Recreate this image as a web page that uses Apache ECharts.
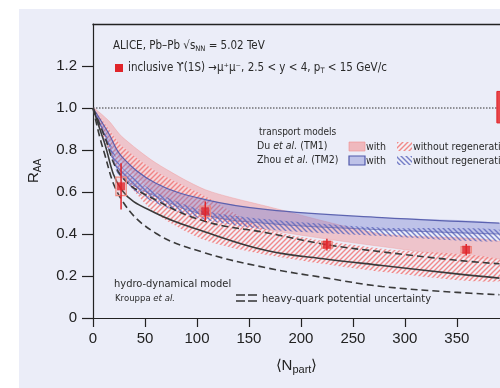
<!DOCTYPE html>
<html><head><meta charset="utf-8">
<script src="https://cdn.jsdelivr.net/npm/echarts@6/dist/echarts.min.js"></script>
<style>html,body{margin:0;padding:0;background:#fff}#c{width:500px;height:388px}</style>
</head><body><div id="c"></div>
<script>
// ---- data ----
const bandX      = [0, 15, 27.5, 60, 108, 168, 278, 391];
const tm1WithUp  = [1.0, 0.94, 0.865, 0.74, 0.611, 0.531, 0.40, 0.365];
const tm1WithLo  = [1.0, 0.86, 0.75, 0.60, 0.49, 0.42, 0.34, 0.28];
const tm1NoUp    = [1.0, 0.90, 0.82, 0.70, 0.58, 0.42, 0.33, 0.28];
const tm1NoLo    = [1.0, 0.80, 0.68, 0.50, 0.37, 0.30, 0.22, 0.175];
const tm2WithUp  = [1.0, 0.88, 0.77, 0.643, 0.564, 0.516, 0.478, 0.452];
const tm2WithLo  = [1.0, 0.83, 0.68, 0.58, 0.49, 0.45, 0.42, 0.40];
const tm2NoUp    = [1.0, 0.85, 0.72, 0.60, 0.51, 0.47, 0.43, 0.42];
const tm2NoLo    = [1.0, 0.80, 0.655, 0.548, 0.468, 0.421, 0.39, 0.365];

const hydroX     = [0, 10, 27.5, 60, 108, 168, 225, 278, 350, 391];
const hydroUp    = [1.0, 0.88, 0.674, 0.563, 0.46, 0.405, 0.349, 0.315, 0.275, 0.258];
const hydroMid   = [1.0, 0.85, 0.611, 0.50, 0.41, 0.32, 0.28, 0.25, 0.21, 0.19];
const hydroLo    = [1.0, 0.80, 0.563, 0.405, 0.31, 0.238, 0.19, 0.15, 0.122, 0.111];

const dataNpart  = [27, 108, 225, 359];
const dataRaa    = [0.627, 0.508, 0.349, 0.325];
const statErr    = [0.11, 0.047, 0.028, 0.027];
const systErr    = [0.044, 0.025, 0.016, 0.015];
const systHalfW  = 5;
const globalUnc  = [388.5, 396, 0.929, 1.079]; // x0, x1, y0, y1

const xTicks = [0, 50, 100, 150, 200, 250, 300, 350];
const yTicks = [0, 0.2, 0.4, 0.6, 0.8, 1.0, 1.2];

// ---- helpers ----
function hatch(color, bg, dir) {
  const c = document.createElement('canvas');
  c.width = 5; c.height = 5;
  const g = c.getContext('2d');
  if (bg) { g.fillStyle = bg; g.fillRect(0, 0, 5, 5); }
  g.strokeStyle = color; g.lineWidth = 1.4;
  g.beginPath();
  if (dir > 0) {
    g.moveTo(-1, 6); g.lineTo(6, -1);
    g.moveTo(-1, 1); g.lineTo(1, -1);
    g.moveTo(4, 6); g.lineTo(6, 4);
  } else {
    g.moveTo(-1, -1); g.lineTo(6, 6);
    g.moveTo(4, -1); g.lineTo(6, 1);
    g.moveTo(-1, 4); g.lineTo(1, 6);
  }
  g.stroke();
  return { image: c, repeat: 'repeat' };
}
const pinkHatch = hatch('rgba(240,118,118,0.85)', 'rgba(255,246,246,0.35)', 1);
const blueHatch = hatch('rgba(96,106,190,0.85)', null, -1);

function band(name, up, lo, style, z) {
  return {
    type: 'custom', name, z, silent: true, clip: true,
    data: [[0, 0]],
    renderItem(params, api) {
      const pts = [];
      for (let i = 0; i < bandX.length; i++) pts.push(api.coord([bandX[i], up[i]]));
      for (let i = bandX.length - 1; i >= 1; i--) pts.push(api.coord([bandX[i], lo[i]]));
      return { type: 'polygon', shape: { points: pts, smooth: 0.25 }, style };
    }
  };
}
function edge(ys, color, width, z) {
  return {
    type: 'line', data: bandX.map((x, i) => [x, ys[i]]), smooth: 0.4, symbol: 'none',
    lineStyle: { color, width }, z, silent: true
  };
}
function hydro(ys, type) {
  return {
    type: 'line', data: hydroX.map((x, i) => [x, ys[i]]), smooth: 0.4, symbol: 'none',
    lineStyle: { color: '#3a3a3a', width: 1.6, type }, z: 6, silent: true
  };
}

const NARROW = "'DejaVu Sans Condensed', 'Liberation Sans Narrow', 'Liberation Sans', sans-serif";
const SANS = "'Liberation Sans', Arial, sans-serif";
const TXT = '#2a2a2a';

const chart = echarts.init(document.getElementById('c'), null, { renderer: 'canvas' });
chart.setOption({
  backgroundColor: '#ffffff',
  animation: false,
  grid: { left: 93, top: 24, width: 407, height: 294, show: false },
  xAxis: {
    type: 'value', min: 0, max: 391.5, interval: 50,
    axisLine: { show: true, lineStyle: { color: '#222', width: 1.2 } },
    axisTick: { show: true, inside: false, length: 9, lineStyle: { color: '#222', width: 1.2 }, customValues: xTicks },
    axisLabel: { color: '#222', fontSize: 15, fontFamily: SANS, margin: 13, customValues: xTicks },
    splitLine: { show: false },
    name: '{a|⟨N}{b|part}{a|⟩}', nameLocation: 'middle', nameGap: 38,
    nameTextStyle: { rich: { a: { fontSize: 15, fontFamily: SANS, color: '#222' }, b: { fontSize: 11, fontFamily: SANS, color: '#222', verticalAlign: 'bottom', padding: [8, 0, 0, 0] } } }
  },
  yAxis: {
    type: 'value', min: 0, max: 1.4, interval: 0.2,
    axisLine: { show: true, lineStyle: { color: '#222', width: 1.2 } },
    axisTick: { show: true, inside: false, length: 11, lineStyle: { color: '#222', width: 1.2 }, customValues: yTicks },
    axisLabel: { color: '#222', fontSize: 15, fontFamily: SANS, margin: 16, customValues: yTicks,
      formatter: v => (v === 0 ? '0' : v.toFixed(1)) },
    splitLine: { show: false },
    name: '{a|R}{b|AA}', nameLocation: 'middle', nameGap: 50, nameRotate: 90,
    nameTextStyle: { rich: { a: { fontSize: 15, fontFamily: SANS, color: '#222' }, b: { fontSize: 10, fontFamily: SANS, color: '#222', padding: [8, 0, 0, 0] } } }
  },
  series: [
    { type: 'line', data: [[0, 1], [391.5, 1]], symbol: 'none', silent: true, z: 3,
      lineStyle: { color: '#333', width: 1, type: [1.5, 1.5] } },
    band('tm1With', tm1WithUp, tm1WithLo, { fill: 'rgba(242,140,140,0.42)', stroke: 'rgba(240,140,140,0.45)', lineWidth: 0.8 }, 2),
    band('tm1No', tm1NoUp, tm1NoLo, { fill: pinkHatch, stroke: null }, 3),
    band('tm2With', tm2WithUp, tm2WithLo, { fill: 'rgba(110,118,205,0.36)', stroke: null }, 4),
    band('tm2No', tm2NoUp, tm2NoLo, { fill: blueHatch, stroke: null }, 5),
    edge(tm2WithUp, 'rgba(80,88,170,0.9)', 1.2, 5),
    edge(tm2WithLo, 'rgba(80,88,170,0.6)', 1, 5),
    hydro(hydroUp, [7, 4]),
    hydro(hydroMid, 'solid'),
    hydro(hydroLo, [7, 4]),
    {
      type: 'custom', z: 8, silent: true, clip: true,
      data: dataNpart.map((x, i) => [x, dataRaa[i], statErr[i], systErr[i]]),
      renderItem(params, api) {
        const x = api.value(0), y = api.value(1), s = api.value(2), sy = api.value(3);
        const p0 = api.coord([x - systHalfW, y + sy]);
        const p1 = api.coord([x + systHalfW, y - sy]);
        const t = api.coord([x, y + s]), b = api.coord([x, y - s]);
        return { type: 'group', children: [
          { type: 'rect', shape: { x: p0[0], y: p0[1], width: p1[0] - p0[0], height: p1[1] - p0[1] },
            style: { fill: 'rgba(240,120,110,0.15)', stroke: '#f08a80', lineWidth: 1.2 } },
          { type: 'line', shape: { x1: t[0], y1: t[1], x2: b[0], y2: b[1] }, style: { stroke: '#e0242a', lineWidth: 1.5 } }
        ] };
      }
    },
    { type: 'scatter', data: dataNpart.map((x, i) => [x, dataRaa[i]]), symbol: 'rect', symbolSize: 8,
      itemStyle: { color: '#e0242a' }, z: 9, silent: true },
    {
      type: 'custom', z: 8, silent: true, clip: true, data: [[0, 0]],
      renderItem(params, api) {
        const a = api.coord([globalUnc[0], globalUnc[3]]), b = api.coord([globalUnc[1], globalUnc[2]]);
        return { type: 'rect', shape: { x: a[0], y: a[1], width: b[0] - a[0], height: b[1] - a[1] },
          style: { fill: '#e8464a', stroke: '#e0242a', lineWidth: 1 } };
      }
    }
  ],
  graphic: [
    { type: 'rect', z: -100, silent: true, shape: { x: 19, y: 9, width: 481, height: 379 }, style: { fill: '#ebedf8' } },
    { type: 'line', shape: { x1: 92.4, y1: 24.5, x2: 500, y2: 24.5 }, style: { stroke: '#222', lineWidth: 1.4 } },
    { type: 'text', x: 113, y: 46, style: { text: '{a|ALICE, Pb–Pb √}{o|s}{b|NN}{a| = 5.02 TeV}', verticalAlign: 'middle',
      rich: { a: { fontSize: 11.5, fontFamily: NARROW, fill: TXT }, o: { fontSize: 11.5, fontFamily: NARROW, fill: TXT }, b: { fontSize: 7.5, fontFamily: NARROW, fill: TXT, padding: [7, 0, 0, 0] } } } },
    { type: 'rect', shape: { x: 115, y: 64, width: 8, height: 8 }, style: { fill: '#e0242a' } },
    { type: 'text', x: 128, y: 68, style: { text: '{a|inclusive ϒ(1S) →μ⁺μ⁻, 2.5 < y < 4, p}{b|T}{a| < 15 GeV/c}', verticalAlign: 'middle',
      rich: { a: { fontSize: 11.5, fontFamily: NARROW, fill: TXT }, b: { fontSize: 7.5, fontFamily: NARROW, fill: TXT, padding: [7, 0, 0, 0] } } } },
    { type: 'text', x: 259, y: 132, style: { text: 'transport models', fontSize: 10, fontFamily: NARROW, fill: TXT, verticalAlign: 'middle' } },
    { type: 'text', x: 257, y: 146, style: { text: '{a|Du }{i|et al.}{a| (TM1)}', verticalAlign: 'middle',
      rich: { a: { fontSize: 10.5, fontFamily: NARROW, fill: TXT }, i: { fontSize: 10.5, fontFamily: NARROW, fontStyle: 'italic', fill: TXT } } } },
    { type: 'text', x: 257, y: 160, style: { text: '{a|Zhou }{i|et al.}{a| (TM2)}', verticalAlign: 'middle',
      rich: { a: { fontSize: 10.5, fontFamily: NARROW, fill: TXT }, i: { fontSize: 10.5, fontFamily: NARROW, fontStyle: 'italic', fill: TXT } } } },
    { type: 'rect', shape: { x: 349, y: 142, width: 16, height: 9 }, style: { fill: 'rgba(242,140,140,0.55)', stroke: 'rgba(240,140,140,0.6)', lineWidth: 1 } },
    { type: 'rect', shape: { x: 349, y: 156, width: 16, height: 9 }, style: { fill: 'rgba(110,118,205,0.36)', stroke: '#5058aa', lineWidth: 1.2 } },
    { type: 'rect', shape: { x: 397, y: 142, width: 15, height: 9 }, style: { fill: pinkHatch } },
    { type: 'rect', shape: { x: 397, y: 156, width: 15, height: 9 }, style: { fill: blueHatch } },
    { type: 'text', x: 366, y: 147, style: { text: 'with', fontSize: 10.5, fontFamily: NARROW, fill: TXT, verticalAlign: 'middle' } },
    { type: 'text', x: 366, y: 161, style: { text: 'with', fontSize: 10.5, fontFamily: NARROW, fill: TXT, verticalAlign: 'middle' } },
    { type: 'text', x: 413, y: 147, style: { text: 'without regeneration', fontSize: 10.5, fontFamily: NARROW, fill: TXT, verticalAlign: 'middle' } },
    { type: 'text', x: 413, y: 161, style: { text: 'without regeneration', fontSize: 10.5, fontFamily: NARROW, fill: TXT, verticalAlign: 'middle' } },
    { type: 'text', x: 114, y: 284, style: { text: 'hydro-dynamical model', fontSize: 11, fontFamily: NARROW, fill: TXT, verticalAlign: 'middle' } },
    { type: 'text', x: 115, y: 299, style: { text: '{a|Krouppa }{i|et al.}', verticalAlign: 'middle',
      rich: { a: { fontSize: 9.5, fontFamily: NARROW, fill: TXT }, i: { fontSize: 9.5, fontFamily: NARROW, fontStyle: 'italic', fill: TXT } } } },
    { type: 'line', shape: { x1: 236, y1: 295, x2: 257, y2: 295 }, style: { stroke: '#333', lineWidth: 1.6, lineDash: [9, 3] } },
    { type: 'line', shape: { x1: 236, y1: 301, x2: 257, y2: 301 }, style: { stroke: '#333', lineWidth: 1.6, lineDash: [9, 3] } },
    { type: 'text', x: 262, y: 299, style: { text: 'heavy-quark potential uncertainty', fontSize: 11, fontFamily: NARROW, fill: TXT, verticalAlign: 'middle' } }
  ]
});
</script></body></html>
